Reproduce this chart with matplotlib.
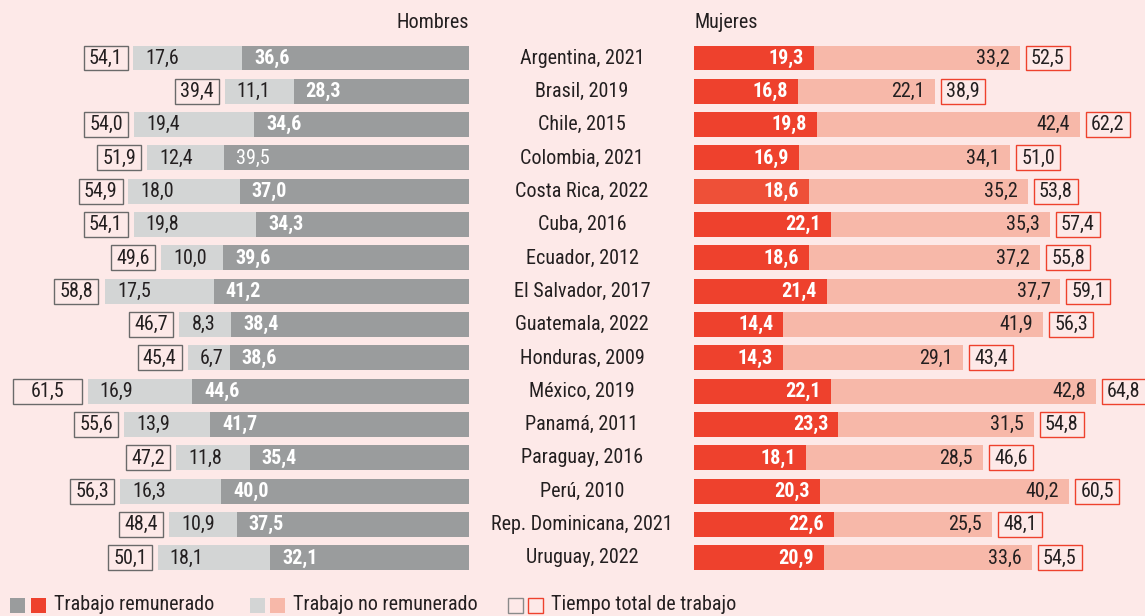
import matplotlib
matplotlib.use("Agg")
import matplotlib.pyplot as plt
from matplotlib.patches import Rectangle
from matplotlib import font_manager

countries = ["Argentina, 2021", "Brasil, 2019", "Chile, 2015", "Colombia, 2021",
             "Costa Rica, 2022", "Cuba, 2016", "Ecuador, 2012", "El Salvador, 2017",
             "Guatemala, 2022", "Honduras, 2009", "México, 2019", "Panamá, 2011",
             "Paraguay, 2016", "Perú, 2010", "Rep. Dominicana, 2021", "Uruguay, 2022"]

men_paid = [36.6, 28.3, 34.6, 39.5, 37.0, 34.3, 39.6, 41.2, 38.4, 38.6, 44.6, 41.7, 35.4, 40.0, 37.5, 32.1]
men_unpaid = [17.6, 11.1, 19.4, 12.4, 18.0, 19.8, 10.0, 17.5, 8.3, 6.7, 16.9, 13.9, 11.8, 16.3, 10.9, 18.1]
men_total = [54.1, 39.4, 54.0, 51.9, 54.9, 54.1, 49.6, 58.8, 46.7, 45.4, 61.5, 55.6, 47.2, 56.3, 48.4, 50.1]

women_paid = [19.3, 16.8, 19.8, 16.9, 18.6, 22.1, 18.6, 21.4, 14.4, 14.3, 22.1, 23.3, 18.1, 20.3, 22.6, 20.9]
women_unpaid = [33.2, 22.1, 42.4, 34.1, 35.2, 35.3, 37.2, 37.7, 41.9, 29.1, 42.8, 31.5, 28.5, 40.2, 25.5, 33.6]
women_total = [52.5, 38.9, 62.2, 51.0, 53.8, 57.4, 55.8, 59.1, 56.3, 43.4, 64.8, 54.8, 46.6, 60.5, 48.1, 54.5]

BG = "#FDE9E8"
GRAY_D = "#9A9C9D"
GRAY_L = "#D3D5D5"
RED = "#EE412D"
RED_CR = "#EE5038"
PINK = "#F7B8A9"
TXT = "#231F20"

avail = {f.name for f in font_manager.fontManager.ttflist}
fam = [f for f in ["Liberation Sans Narrow", "Roboto Condensed", "DejaVu Sans"] if f in avail] or ["DejaVu Sans"]
plt.rcParams['font.family'] = fam

W, H = 1145, 616
PPU = 6.2  # pixels per unit
fig = plt.figure(figsize=(W / 100, H / 100), dpi=100, facecolor=BG)

n = len(countries)
row_h = 33.33
top_px = 58 - row_h / 2
bot_px = top_px + n * row_h

def ax_rect(x0, x1):
    return [x0 / W, 1 - bot_px / H, (x1 - x0) / W, (bot_px - top_px) / H]

axm = fig.add_axes(ax_rect(0, 469))
axw = fig.add_axes(ax_rect(694, 1145))
for ax in (axm, axw):
    ax.set_facecolor(BG)
    ax.set_ylim(n - 0.5, -0.5)
    ax.axis("off")
axm.set_xlim(469 / PPU, 0)
axw.set_xlim(0, 451 / PPU)

bh = 0.75
fs = 14.5
ys = list(range(n))

# Men
axm.barh(ys, men_paid, height=bh, color=GRAY_D)
axm.barh(ys, men_unpaid, left=men_paid, height=bh, color=GRAY_L)
pad = 12 / PPU
gap = 6 / PPU
bw = 44 / PPU
for i in ys:
    bold = i != 3
    axm.text(men_paid[i] - pad, i, f"{men_paid[i]:.1f}".replace(".", ","), color="white",
             fontsize=fs, fontweight="bold" if bold else "normal", ha="left", va="center")
    axm.text(men_paid[i] + men_unpaid[i] - pad, i, f"{men_unpaid[i]:.1f}".replace(".", ","),
             color=TXT, fontsize=fs, ha="left", va="center")
    w = bw if i != 10 else 69 / PPU
    x0 = men_total[i] + gap
    axm.add_patch(Rectangle((x0, i - bh / 2), w, bh, fill=False, ec="#6A6A6A", lw=1, clip_on=False))
    axm.text(x0 + w / 2, i, f"{men_total[i]:.1f}".replace(".", ","), color=TXT,
             fontsize=fs, ha="center", va="center", clip_on=False)

# Women
colors = [RED_CR if i == 4 else RED for i in ys]
axw.barh(ys, women_paid, height=bh, color=colors)
axw.barh(ys, women_unpaid, left=women_paid, height=bh, color=PINK)
pad_w = 10 / PPU
for i in ys:
    axw.text(women_paid[i] - pad_w, i, f"{women_paid[i]:.1f}".replace(".", ","), color="white",
             fontsize=fs, fontweight="bold", ha="right", va="center")
    axw.text(women_total[i] - pad_w, i, f"{women_unpaid[i]:.1f}".replace(".", ","),
             color=TXT, fontsize=fs, ha="right", va="center")
    x0 = women_total[i] + gap
    axw.add_patch(Rectangle((x0, i - bh / 2), bw, bh, fill=False, ec=RED, lw=1, clip_on=False))
    axw.text(x0 + bw / 2, i, f"{women_total[i]:.1f}".replace(".", ","), color=TXT,
             fontsize=fs, ha="center", va="center", clip_on=False)

# Country labels
for i in ys:
    y_px = 58 + i * row_h
    fig.text(582 / W, 1 - y_px / H, countries[i], fontsize=fs, color=TXT, ha="center", va="center")

fig.text(469 / W, 1 - 23 / H, "Hombres", fontsize=fs, color=TXT, ha="right", va="center")
fig.text(694 / W, 1 - 23 / H, "Mujeres", fontsize=fs, color=TXT, ha="left", va="center")

# Legend
ly = 605
sq = 15
def square(x, color=None, ec=None):
    fig.patches.append(Rectangle((x / W, 1 - (ly + sq / 2) / H), sq / W, sq / H,
                                 transform=fig.transFigure, figure=fig,
                                 facecolor=color if color else "none",
                                 edgecolor=ec if ec else "none", lw=1))
square(10, GRAY_D); square(31, RED)
fig.text(54 / W, 1 - ly / H, "Trabajo remunerado", fontsize=fs, color=TXT, ha="left", va="center")
square(250, GRAY_L); square(270, PINK)
fig.text(293 / W, 1 - ly / H, "Trabajo no remunerado", fontsize=fs, color=TXT, ha="left", va="center")
square(508, None, "#8A8A8A"); square(528, None, RED)
fig.text(551 / W, 1 - ly / H, "Tiempo total de trabajo", fontsize=fs, color=TXT, ha="left", va="center")

fig.savefig("out.png", dpi=100, facecolor=BG)
